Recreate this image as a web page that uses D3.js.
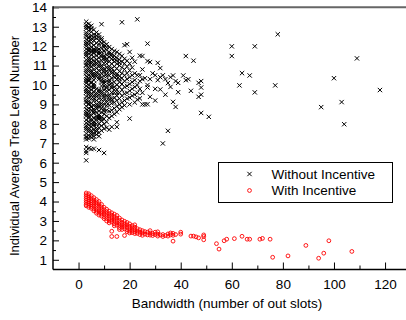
<!DOCTYPE html>
<html>
<head>
<meta charset="utf-8">
<script src="https://cdn.jsdelivr.net/npm/d3@7"></script>
<style>
  body { margin: 0; background: #fff; }
  svg { display: block; font-family: "Liberation Sans", Arial, Helvetica, sans-serif; }
  .tick text { font-size: 13.5px; fill: #000; }
</style>
</head>
<body>
<figure id="chart" style="margin:0"></figure>
<script>
// bandwidth (out slots) vs. average tree level
const withoutIncentive = [
  [3,13.26],[3,13.1],[3,12.9],[3,12.7],[3,12.5],[3,12.35],[3,12.2],[3,12.0],[3,11.85],[3,11.7],[3,11.5],[3,11.3],[3,11.15],[3,11.0],[3,10.8],[3,10.6],[3,10.45],[3,10.3],[3,10.1],[3,9.95],[3,9.8],[3,9.6],[3,9.4],[3,9.25],[3,9.1],[3,8.9],[3,8.75],[3,8.6],[3,8.4],[3,8.2],[3,8.05],[3,7.9],[3,7.7],[3,7.5],[3,7.35],[3,7.2],[3,6.8],[3,6.6],[3,6.5],[3,6.12],
  [3,13.0],[3,12.6],[3,12.1],[3,11.6],[3,11.05],[3,10.7],[3,10.2],[3,9.7],[3,9.15],[3,8.5],[3,7.8],[3,7.3],
  [4,13.15],[4,12.95],[4,12.8],[4,12.6],[4,12.45],[4,12.25],[4,12.1],[4,11.9],[4,11.75],[4,11.6],[4,11.4],[4,11.2],[4,11.05],[4,10.9],[4,10.7],[4,10.5],[4,10.35],[4,10.2],[4,10.0],[4,9.85],[4,9.7],[4,9.5],[4,9.35],[4,9.15],[4,9.0],[4,8.8],[4,8.65],[4,8.5],[4,8.3],[4,8.1],[4,7.95],[4,7.8],[4,7.6],[4,7.4],[4,7.25],[4,6.75],
  [4,13.0],[4,12.4],[4,11.8],[4,11.3],[4,10.8],[4,10.25],[4,9.6],[4,9.05],[4,8.4],[4,7.7],
  [5,13.05],[5,12.75],[5,12.55],[5,12.4],[5,12.15],[5,11.95],[5,11.8],[5,11.55],[5,11.35],[5,11.1],[5,10.95],[5,10.75],[5,10.55],[5,10.4],[5,10.15],[5,9.9],[5,9.75],[5,9.55],[5,9.3],[5,9.05],[5,8.85],[5,8.7],[5,8.45],[5,8.25],[5,8.0],[5,7.85],[5,7.65],[5,7.45],[5,7.3],[5,6.7],
  [5,12.9],[5,12.3],[5,11.7],[5,11.2],[5,10.65],[5,10.1],[5,9.45],[5,8.9],[5,8.15],[5,7.55],
  [6,12.85],[6,12.6],[6,12.3],[6,12.05],[6,11.85],[6,11.65],[6,11.45],[6,11.25],[6,11.0],[6,10.8],[6,10.6],[6,10.4],[6,10.25],[6,10.05],[6,9.85],[6,9.65],[6,9.45],[6,9.2],[6,8.95],[6,8.75],[6,8.55],[6,8.3],[6,8.1],[6,7.9],[6,7.7],[6,7.5],[6,7.35],[6,6.72],
  [6,12.45],[6,11.75],[6,11.1],[6,10.5],[6,9.95],[6,9.3],[6,8.65],[6,8.0],[6,7.2],
  [7,12.7],[7,12.4],[7,12.15],[7,11.9],[7,11.7],[7,11.5],[7,11.3],[7,11.05],[7,10.85],[7,10.65],[7,10.45],[7,9.8],[7,9.6],[7,9.4],[7,9.2],[7,9.0],[7,8.8],[7,8.6],[7,8.4],[7,8.2],[7,8.0],[7,7.8],[7,7.6],[7,7.45],
  [7,12.55],[7,11.8],[7,11.15],[7,10.55],[7,9.5],[7,8.9],[7,8.3],[7,7.7],
  [8,12.6],[8,12.3],[8,12.1],[8,11.85],[8,11.6],[8,11.4],[8,11.2],[8,10.95],[8,10.75],[8,10.55],[8,10.3],[8,9.75],[8,9.5],[8,9.3],[8,9.1],[8,8.85],[8,8.65],[8,8.45],[8,8.25],[8,8.0],[8,7.8],[8,7.55],[8,7.36],[8,6.65],
  [8,12.45],[8,11.7],[8,11.05],[8,10.4],[8,9.65],[8,8.95],[8,8.35],
  [9,13.13],[9,12.4],[9,12.15],[9,11.9],[9,11.7],[9,11.45],[9,11.25],[9,11.0],[9,10.8],[9,10.6],[9,10.4],[9,10.15],[9,9.95],[9,9.7],[9,9.5],[9,9.25],[9,9.05],[9,8.8],[9,8.6],[9,8.35],[9,8.15],[9,7.9],[9,7.65],
  [9,12.3],[9,11.55],[9,10.9],[9,10.25],[9,9.6],[9,8.95],[9,8.25],
  [10,12.2],[10,11.95],[10,11.75],[10,11.5],[10,11.3],[10,11.1],[10,10.85],[10,10.65],[10,10.45],[10,10.2],[10,9.95],[10,9.75],[10,9.5],[10,9.25],[10,9.0],[10,8.75],[10,8.5],[10,8.25],[10,8.0],[10,7.75],[10,6.5],
  [10,12.05],[10,11.4],[10,10.75],[10,10.1],[10,9.4],[10,8.65],
  [11,12.1],[11,11.8],[11,11.55],[11,11.35],[11,11.1],[11,10.9],[11,10.7],[11,10.45],[11,10.2],[11,9.95],[11,9.7],[11,9.45],[11,9.2],[11,8.95],[11,8.7],[11,8.4],[11,8.1],[11,7.8],
  [11,11.95],[11,11.25],[11,10.55],[11,9.85],[11,9.1],
  [12,11.95],[12,11.7],[12,11.45],[12,11.2],[12,10.95],[12,10.75],[12,10.5],[12,10.25],[12,10.0],[12,9.75],[12,9.5],[12,9.25],[12,8.95],[12,8.65],[12,8.3],[12,7.7],
  [12,11.6],[12,10.85],[12,10.15],[12,9.4],
  [13,11.85],[13,11.6],[13,11.35],[13,11.1],[13,10.85],[13,10.6],[13,10.35],[13,10.1],[13,9.85],[13,9.6],[13,9.3],[13,9.05],[13,8.7],[13,8.4],[13,7.84],
  [13,11.5],[13,10.7],[13,9.95],[13,9.2],
  [14,11.75],[14,11.5],[14,11.2],[14,10.95],[14,10.7],[14,10.4],[14,10.15],[14,9.9],[14,9.6],[14,9.35],[14,9.1],[14,8.8],[14,8.5],
  [14,11.35],[14,10.55],[14,9.75],
  [15,11.7],[15,11.4],[15,11.1],[15,10.85],[15,10.55],[15,10.3],[15,10.0],[15,9.75],[15,9.45],[15,9.2],[15,8.9],[15,8.6],[15,8.08],[15,7.84],
  [15,11.25],[15,10.45],[15,9.6],
  [16,11.6],[16,11.3],[16,11.0],[16,10.7],[16,10.45],[16,10.15],[16,9.9],[16,9.6],[16,9.3],[16,9.0],[16,8.75],
  [16,11.15],[16,10.3],
  [17,13.23],[17,11.5],[17,11.2],[17,10.9],[17,10.6],[17,10.35],[17,10.05],[17,9.75],[17,9.45],[17,9.1],[17,8.85],
  [18,12.05],[18,11.35],[18,11.1],[18,10.8],[18,10.5],[18,10.2],[18,9.9],[18,9.55],[18,9.2],[18,8.95],
  [19,12.1],[19,11.25],[19,10.95],[19,10.6],[19,10.3],[19,9.95],[19,9.6],[19,9.3],
  [20,11.7],[20,11.1],[20,10.75],[20,10.4],[20,10.05],[20,9.7],[20,9.35],[20,9.0],[20,8.27],
  [21,11.4],[21,10.9],[21,10.5],[21,10.15],[21,9.8],[21,9.45],
  [22,11.2],[22,10.6],[22,10.25],[22,9.9],[22,9.5],[22,9.1],
  [23,13.38],[23,10.5],[23,10.0],[23,9.6],[23,9.25],
  [24,11.51],[24,10.5],[24,10.2],[24,9.8],[24,9.31],
  [25,11.49],[25,10.8],[25,10.3],[25,9.6],[25,9.0],
  [26,10.35],[26,9.0],
  [27,12.13],[27,11.23],[27,10.0],[27,9.87],[27,9.01],
  [28,11.18],[28,10.3],[28,9.39],
  [29,10.6],[30,10.5],[30,9.8],[30,9.2],
  [31,11.14],[31,10.25],[32,10.87],[32,10.4],[32,9.77],
  [33,10.5],[33,6.99],[34,10.3],[34,9.5],[35,10.1],[35,7.64],[36,10.4],[36,9.9],
  [37,10.49],[37,9.13],[38,10.2],[38,8.87],[39,10.11],[39,9.63],
  [41,10.49],[42,11.49],[42,10.25],[43,10.3],[44,9.7],[45,11.25],
  [47,10.11],[47,9.39],[48,10.2],[48,9.87],[48,9.5],[48,8.56],[51,8.36],
  [60,11.99],[60,11.49],[63,9.98],[64,10.61],[67,10.49],[69,11.99],[69,9.62],
  [77,9.98],[78,12.61],[95,8.86],[100,10.35],[103,9.12],[104,7.98],[109,11.37],[118,9.74]
];

const withIncentive = [
  [3,4.44],[3,4.35],[3,4.25],[3,4.15],[3,4.05],[3,3.95],[3,3.85],[3,3.78],
  [4,4.4],[4,4.3],[4,4.2],[4,4.1],[4,4.0],[4,3.9],[4,3.8],[4,3.7],
  [5,4.3],[5,4.18],[5,4.05],[5,3.95],[5,3.85],[5,3.75],[5,3.65],
  [6,4.2],[6,4.08],[6,3.96],[6,3.85],[6,3.75],[6,3.62],[6,3.52],
  [7,4.1],[7,3.98],[7,3.86],[7,3.75],[7,3.62],[7,3.5],[7,3.4],
  [8,4.0],[8,3.88],[8,3.76],[8,3.64],[8,3.52],[8,3.4],[8,3.3],
  [9,3.85],[9,3.72],[9,3.6],[9,3.48],[9,3.36],[9,3.25],
  [10,3.7],[10,3.58],[10,3.46],[10,3.34],[10,3.22],[10,3.12],
  [11,3.6],[11,3.48],[11,3.36],[11,3.24],[11,3.12],[11,3.0],
  [12,3.5],[12,3.38],[12,3.25],[12,3.12],[12,3.0],[12,2.9],
  [13,3.42],[13,3.3],[13,3.18],[13,3.05],[13,2.95],[13,2.47],[13,2.2],
  [14,3.35],[14,3.22],[14,3.1],[14,2.98],[14,2.85],[14,2.75],
  [15,3.28],[15,3.15],[15,3.02],[15,2.9],[15,2.78],[15,2.2],
  [16,3.15],[16,3.02],[16,2.9],[16,2.78],[16,2.66],[16,2.56],
  [17,3.05],[17,2.92],[17,2.8],[17,2.68],[17,2.56],
  [18,2.98],[18,2.85],[18,2.72],[18,2.6],[18,2.25],
  [19,2.92],[19,2.8],[19,2.68],[19,2.55],[19,2.45],
  [20,2.85],[20,2.72],[20,2.6],[20,2.48],[20,2.38],
  [21,2.76],[21,2.64],[21,2.52],[21,2.4],
  [22,2.8],[22,2.68],[22,2.56],[22,2.44],[22,2.35],
  [23,2.6],[23,2.48],[23,2.36],[24,2.55],[24,2.42],[24,2.3],
  [25,2.5],[25,2.38],[25,2.26],[26,2.45],[26,2.32],[27,2.42],[27,2.28],
  [28,2.5],[28,2.38],[28,2.27],[29,2.35],[29,2.25],[30,2.42],[30,2.3],
  [31,2.44],[31,2.32],[31,2.22],[32,2.28],[33,2.3],[33,2.2],[34,2.25],
  [35,2.33],[35,2.22],[36,2.38],[36,2.28],[37,2.36],[37,2.26],[37,1.96],[38,2.3],
  [40,2.42],[40,2.32],[44,2.22],[45,2.22],[46,2.18],[47,2.13],[49,2.28],[49,2.2],[49,2.03],
  [54,1.83],[55,1.55],[57,1.98],[58,2.06],[61,2.09],[64,2.21],[66,2.06],[67,2.06],
  [71,2.06],[72,2.1],[75,2.06],[76,1.13],[82,1.2],[89,1.74],[94,1.08],[96,1.34],[98,1.98],[107,1.43]
];

const xMajor = [0, 20, 40, 60, 80, 100, 120];
const xMinor = [10, 30, 50, 70, 90, 110];
const yMajor = [1, 2, 3, 4, 5, 6, 7, 8, 9, 10, 11, 12, 13, 14];
const yMinor = [1.5, 2.5, 3.5, 4.5, 5.5, 6.5, 7.5, 8.5, 9.5, 10.5, 11.5, 12.5, 13.5];
const seriesNames = ["Without Incentive", "With Incentive"];

const width = 406, height = 320;
const plotL = 53, plotR = 410.6, plotT = 7.3, plotB = 269.5;

const svg = d3.select("#chart").append("svg")
  .attr("width", width)
  .attr("height", height);

const x = d3.scaleLinear().domain([-10, 130]).range([plotL, plotR]);
const y = d3.scaleLinear().domain([0.5, 14]).range([plotB, plotT]);

// ticks point inward, so negative tick sizes
svg.append("g").attr("transform", "translate(0," + plotB + ")")
  .call(d3.axisBottom(x).tickValues(xMajor).tickSize(-7).tickPadding(10));
svg.append("g").attr("transform", "translate(0," + plotB + ")")
  .call(d3.axisBottom(x).tickValues(xMinor).tickSize(-4).tickFormat(""));

svg.append("g").attr("transform", "translate(" + plotL + ",0)")
  .call(d3.axisLeft(y).tickValues(yMajor).tickSize(-6).tickPadding(6));
svg.append("g").attr("transform", "translate(" + plotL + ",0)")
  .call(d3.axisLeft(y).tickValues(yMinor).tickSize(-3).tickFormat(""));

svg.selectAll(".domain").remove();
svg.selectAll(".tick line").attr("stroke", "#000").attr("stroke-width", 1);

// frame: gray line on top, black on left and bottom
svg.append("line").attr("x1", plotL).attr("x2", width).attr("y1", plotT).attr("y2", plotT)
  .attr("stroke", "#666").attr("stroke-width", 2);
svg.append("line").attr("x1", plotL).attr("x2", plotL).attr("y1", plotT - 1).attr("y2", plotB)
  .attr("stroke", "#000").attr("stroke-width", 1.5);
svg.append("line").attr("x1", plotL).attr("x2", width).attr("y1", plotB).attr("y2", plotB)
  .attr("stroke", "#000").attr("stroke-width", 1.5);

const cross = d3.symbol().type(d3.symbolTimes).size(14);

svg.append("g").selectAll("path")
  .data(withoutIncentive)
  .enter().append("path")
  .attr("d", cross)
  .attr("transform", d => "translate(" + x(d[0]) + "," + y(d[1]) + ")")
  .attr("fill", "none")
  .attr("stroke", "#000")
  .attr("stroke-width", 1);

svg.append("g").selectAll("circle")
  .data(withIncentive)
  .enter().append("circle")
  .attr("cx", d => x(d[0]))
  .attr("cy", d => y(d[1]))
  .attr("r", 1.9)
  .attr("fill", "none")
  .attr("stroke", "#f00")
  .attr("stroke-width", 0.9);

// legend
const lg = svg.append("g");
lg.append("rect").attr("x", 218.5).attr("y", 162.5).attr("width", 174).attr("height", 40)
  .attr("fill", "#fff").attr("stroke", "#000").attr("stroke-width", 1);
lg.append("path").attr("d", cross).attr("transform", "translate(249.5,174)")
  .attr("fill", "none").attr("stroke", "#000").attr("stroke-width", 1);
lg.append("circle").attr("cx", 249.5).attr("cy", 190.5).attr("r", 1.9)
  .attr("fill", "none").attr("stroke", "#f00").attr("stroke-width", 0.9);
lg.selectAll("text").data(seriesNames).enter().append("text")
  .attr("x", 271.5)
  .attr("y", (d, i) => 178.5 + i * 16.5)
  .attr("font-size", 13.5)
  .text(d => d);

svg.append("text")
  .attr("x", 227).attr("y", 308)
  .attr("text-anchor", "middle").attr("font-size", 13.5)
  .text("Bandwidth (number of out slots)");

svg.append("text")
  .attr("transform", "translate(19,146) rotate(-90)")
  .attr("text-anchor", "middle").attr("font-size", 13)
  .text("Individual Average Tree Level Number");
</script>
</body>
</html>
